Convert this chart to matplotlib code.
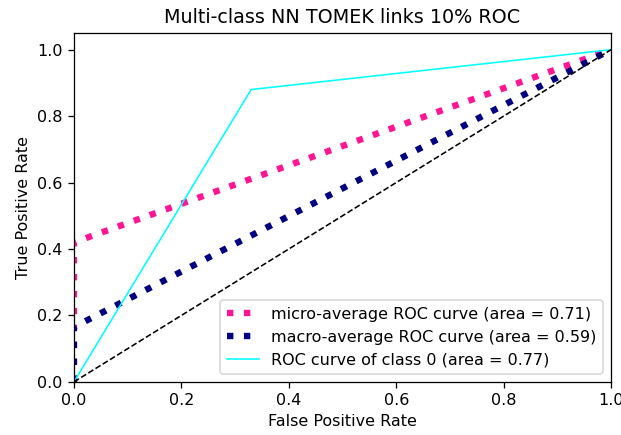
import matplotlib
matplotlib.use('Agg')
from matplotlib import pyplot as plt

# ROC points per curve
micro_fpr = [0.0, 0.0, 1.0]
micro_tpr = [0.0, 0.42, 1.0]
micro_auc = 0.71

macro_fpr = [0.0, 0.0, 1.0]
macro_tpr = [0.0, 0.165, 1.0]
macro_auc = 0.59

class0_fpr = [0.0, 0.33, 1.0]
class0_tpr = [0.0, 0.88, 1.0]
class0_auc = 0.77

dpi = 115
fig = plt.figure(figsize=(621 / dpi, 435 / dpi), dpi=dpi)
ax = fig.add_axes([0.119, 0.122, 0.865, 0.802])

ax.plot(micro_fpr, micro_tpr, color='deeppink', linestyle=':', linewidth=4,
        label='micro-average ROC curve (area = {0:0.2f})'.format(micro_auc))
ax.plot(macro_fpr, macro_tpr, color='navy', linestyle=':', linewidth=4,
        label='macro-average ROC curve (area = {0:0.2f})'.format(macro_auc))
ax.plot(class0_fpr, class0_tpr, color='aqua', linewidth=1,
        label='ROC curve of class 0 (area = {0:0.2f})'.format(class0_auc))
ax.plot([0, 1], [0, 1], 'k--', lw=1)

ax.set_xlim([0.0, 1.0])
ax.set_ylim([0.0, 1.05])
ax.set_xlabel('False Positive Rate')
ax.set_ylabel('True Positive Rate')
ax.set_title('Multi-class NN TOMEK links 10% ROC')
ax.legend(loc='lower right')

fig.savefig('out.png', dpi=dpi)
